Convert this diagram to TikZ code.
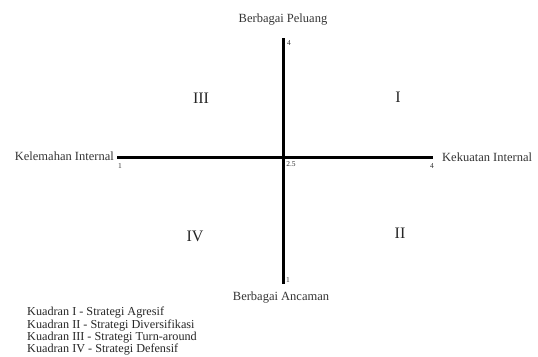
\documentclass[tikz,border=0pt]{standalone}
\usepackage{fontspec}
\setmainfont{Liberation Serif}
\begin{document}
\begin{tikzpicture}[x=1pt,y=-1pt,
  axislbl/.style={font=\fontsize{12.5}{13}\selectfont,text=black!80,inner sep=0pt},
  ticklbl/.style={font=\fontsize{7.5}{8}\selectfont,text=black!80,inner sep=0pt},
  quadlbl/.style={font=\fontsize{16}{17}\selectfont,text=black!85,inner sep=0pt},
  axisline/.style={line width=3pt}]
\useasboundingbox (0,0) rectangle (538,356);
\coordinate (W) at (117,157);
\coordinate (E) at (433,157);
\coordinate (N) at (283,38);
\coordinate (S) at (283,284);
\draw[axisline] (W) -- (E);
\draw[axisline] (N) -- (S);
\node[axislbl] (peluang) at (283,20) {Berbagai Peluang};
\node[axislbl] (ancaman) at (281,298) {Berbagai Ancaman};
\node[axislbl,anchor=east] (lemah) at (114,156) {Kelemahan Internal};
\node[axislbl,anchor=west] (kuat) at (442,157) {Kekuatan Internal};
\node[ticklbl] (t4up) at (289,43) {4};
\node[ticklbl] (t1dn) at (288,280) {1};
\node[ticklbl] (t1lf) at (120,166) {1};
\node[ticklbl] (t4rt) at (432,166) {4};
\node[ticklbl] (tmid) at (291,164) {2.5};
\node[quadlbl] (q3) at (201,98) {III};
\node[quadlbl] (q1) at (398,97) {I};
\node[quadlbl] (q4) at (195,236) {IV};
\node[quadlbl] (q2) at (400,233) {II};
\node[font=\fontsize{12.2}{12.3}\selectfont,text=black!85,inner sep=0pt,
  align=left,anchor=north west] (legend) at (27,307)
  {Kuadran I - Strategi Agresif\\
   Kuadran II - Strategi Diversifikasi\\
   Kuadran III - Strategi Turn-around\\
   Kuadran IV - Strategi Defensif};
\end{tikzpicture}
\end{document}
